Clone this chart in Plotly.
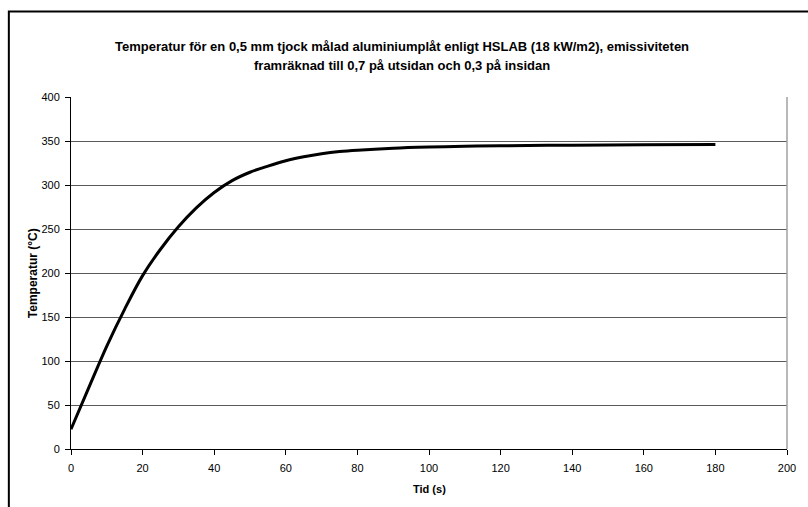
import plotly.graph_objects as go

# Time (s) and plate temperature (°C) from the HSLAB calculation
tid_s = [0, 5, 10, 15, 20, 25, 30, 35, 40, 45, 50, 55, 60, 65, 70,
         75, 80, 90, 100, 110, 120, 140, 160, 180]
temperatur_c = [22.5, 70, 117, 159, 197, 227, 252.5, 274, 291.5, 305, 314.5, 321.5, 327.5,
                332, 335.5, 338, 339.6, 341.8, 343.1, 344, 344.6, 345.3, 345.7, 346]

x_ticks = list(range(0, 201, 20))
y_ticks = list(range(0, 401, 50))

title_lines = [
    "Temperatur för en 0,5 mm tjock målad aluminiumplåt enligt HSLAB (18 kW/m2), emissiviteten",
    "framräknad till 0,7 på utsidan och 0,3 på insidan",
]
x_title = "Tid (s)"
y_title = "Temperatur (°C)"

FONT = "Liberation Sans, Arial, sans-serif"

W, H = 808, 507
L, R, T, B = 71, 17, 97, 58
pw, ph = W - L - R, H - T - B


def px_x(px):
    return (px - L) / pw


def px_y(py):
    return (H - B - py) / ph


fig = go.Figure()
fig.add_trace(go.Scatter(
    x=tid_s, y=temperatur_c, mode="lines",
    line=dict(color="black", width=3, shape="spline", smoothing=1.0),
    showlegend=False, hoverinfo="skip",
))

fig.update_layout(
    width=W, height=H,
    margin=dict(l=L, r=R, t=T, b=B),
    paper_bgcolor="white", plot_bgcolor="white",
    font=dict(family=FONT, color="black", size=11),
    xaxis=dict(
        range=[0, 200], tickvals=x_ticks, showgrid=False, zeroline=False,
        showline=True, linecolor="black", linewidth=1,
        ticks="outside", ticklen=5, tickcolor="black", tickwidth=1,
        tickfont=dict(size=11), ticklabelstandoff=4,
    ),
    yaxis=dict(
        range=[0, 400], tickvals=y_ticks, showgrid=True, gridcolor="#5a5a5a",
        gridwidth=1, zeroline=False,
        showline=True, linecolor="black", linewidth=1,
        ticks="outside", ticklen=5, tickcolor="black", tickwidth=1,
        tickfont=dict(size=11), ticklabelstandoff=3,
    ),
)

# chart frame (left and top edges visible, rest runs past the page)
fig.add_shape(type="rect", xref="paper", yref="paper",
              x0=px_x(8.5), x1=px_x(815), y0=px_y(515), y1=px_y(11.5),
              line=dict(color="black", width=2), fillcolor="rgba(0,0,0,0)", layer="above")
# right border of the plot area
fig.add_shape(type="line", xref="paper", yref="paper", x0=1, x1=1, y0=0, y1=1,
              line=dict(color="#a0a0a0", width=1.5))

# two-line title
for text, cy in zip(title_lines, [46, 66]):
    fig.add_annotation(text=f"<b>{text}</b>", xref="paper", yref="paper",
                       x=px_x(404), y=px_y(cy), xanchor="center", yanchor="middle",
                       showarrow=False, font=dict(size=13, family=FONT))

fig.add_annotation(text=f"<b>{x_title}</b>", xref="paper", yref="paper",
                   x=px_x(431), y=px_y(489), xanchor="center", yanchor="middle",
                   showarrow=False, font=dict(size=11, family=FONT))
fig.add_annotation(text=f"<b>{y_title}</b>", xref="paper", yref="paper",
                   x=px_x(33), y=0.5, xanchor="center", yanchor="middle", textangle=-90,
                   showarrow=False, font=dict(size=12, family=FONT))

fig.write_html("out.html")
